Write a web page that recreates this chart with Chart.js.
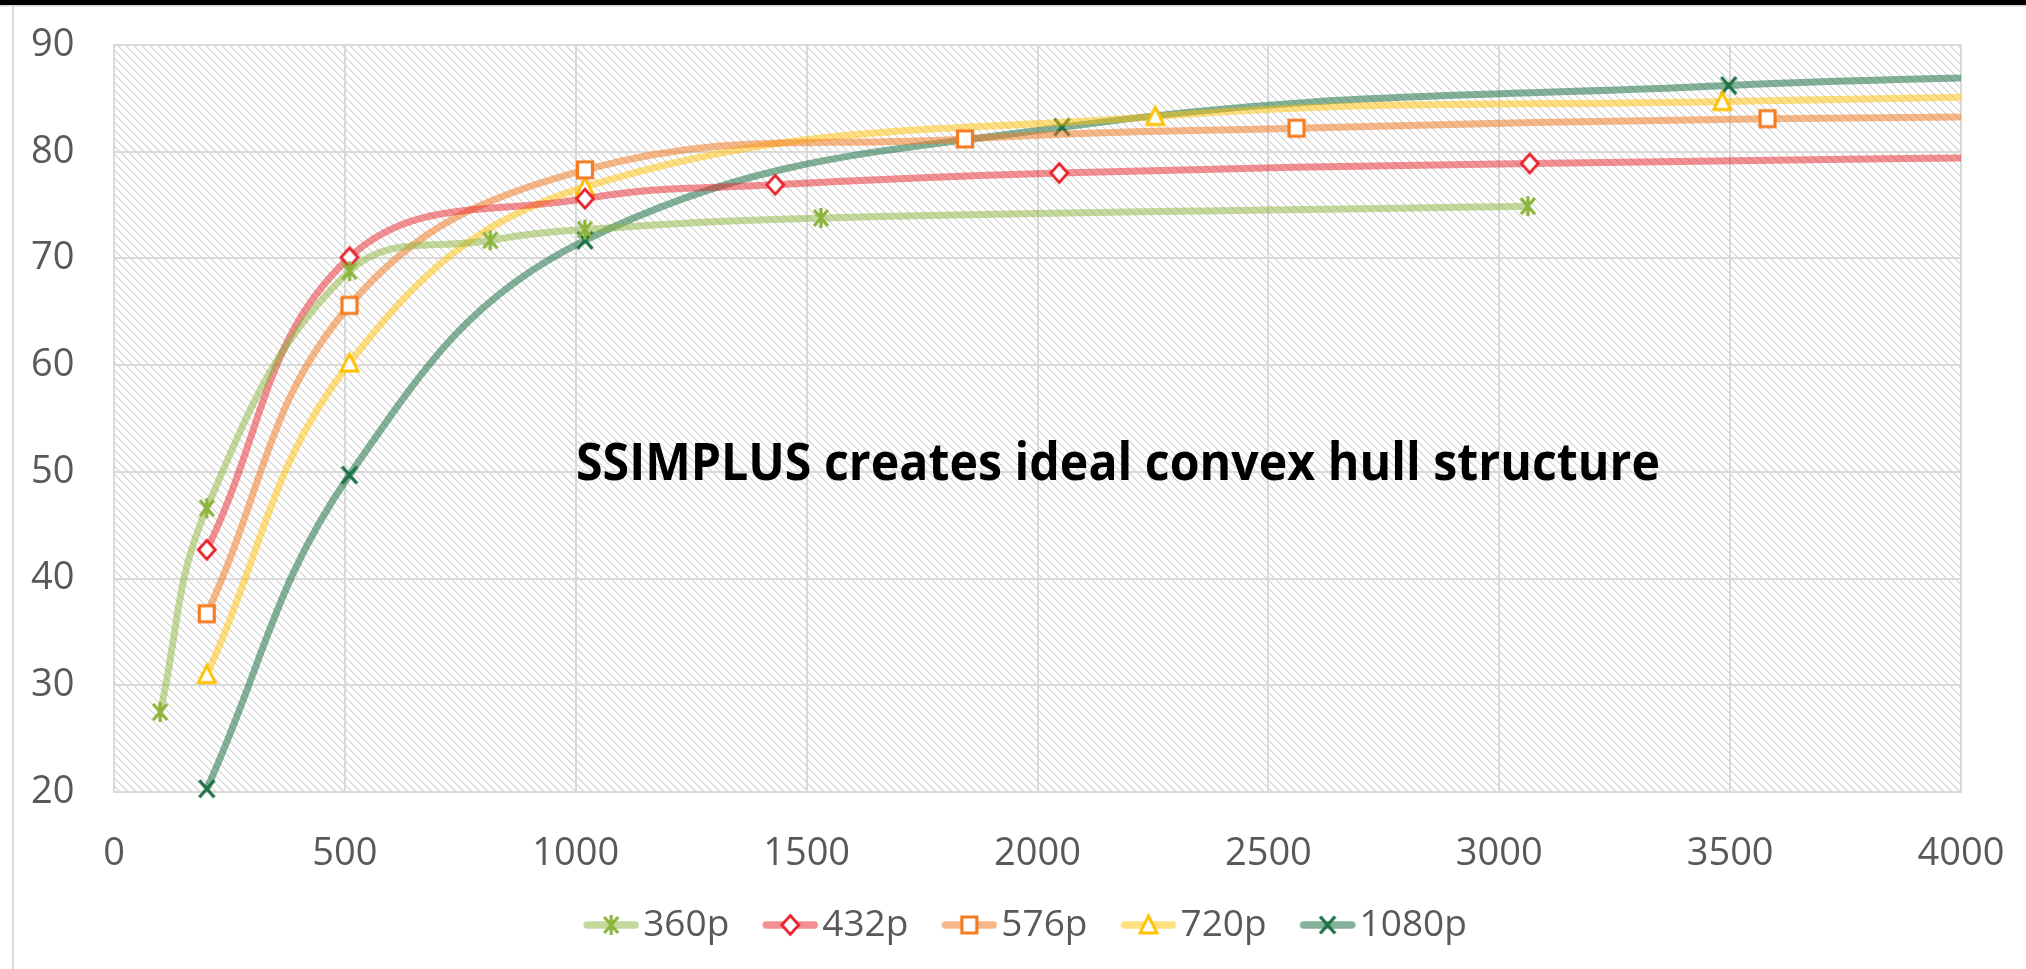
<!DOCTYPE html>
<html>
<head>
<meta charset="utf-8">
<script src="https://cdn.jsdelivr.net/npm/chart.js@4.4.1/dist/chart.umd.min.js"></script>
<style>
html,body{margin:0;padding:0;background:#fff;overflow:hidden}
canvas{display:block}
</style>
</head>
<body>
<canvas id="c" width="2026" height="969"></canvas>
<script>
// ---------------- data ----------------
const seriesNames = ['360p', '432p', '576p', '720p', '1080p'];

const x360  = [100, 201, 510, 815, 1020, 1531, 3062];
const y360  = [27.5, 46.6, 68.8, 71.7, 72.7, 73.8, 74.9];

const x432  = [201, 510, 1020, 1432, 2047, 3066, 4600];
const y432  = [42.7, 70.1, 75.6, 76.9, 78.0, 78.9, 79.7];

const x576  = [201, 510, 1020, 1843, 2561, 3581, 4600];
const y576  = [36.7, 65.6, 78.3, 81.2, 82.2, 83.1, 83.4];

const x720  = [201, 510, 1020, 2255, 3483, 4600];
const y720  = [31.0, 60.2, 76.7, 83.3, 84.7, 85.5];

const x1080 = [201, 510, 1020, 2053, 3497, 4600];
const y1080 = [20.3, 49.7, 71.7, 82.3, 86.2, 87.4];

const xTickValues = [0, 500, 1000, 1500, 2000, 2500, 3000, 3500, 4000];
const xTickLabels = ['0', '500', '1000', '1500', '2000', '2500', '3000', '3500', '4000'];
const yTickValues = [20, 30, 40, 50, 60, 70, 80, 90];
const yTickLabels = ['20', '30', '40', '50', '60', '70', '80', '90'];

const annotationText = 'SSIMPLUS creates ideal convex hull structure';

// ---------------- styles ----------------
const FONT = "'Open Sans', 'Noto Sans', 'DejaVu Sans', sans-serif";
const TEXT_COLOR = '#595959';
const GRID_COLOR = '#d9d9d9';
const markerColors = ['#8CB43C', '#E8212A', '#F47B20', '#FFC000', '#1E7145'];
const lineColors = ['rgba(140,180,60,0.5)', 'rgba(232,33,42,0.5)', 'rgba(240,125,40,0.55)',
                    'rgba(255,192,0,0.5)', 'rgba(30,113,69,0.55)'];
const markerTypes = ['star', 'diamond', 'square', 'triangle', 'x'];

function drawMarker(g, type, color, cx, cy) {
  g.save();
  g.strokeStyle = color;
  g.fillStyle = '#ffffff';
  g.lineJoin = 'miter';
  g.lineCap = 'butt';
  if (type === 'star') {
    g.lineWidth = 3.2;
    g.beginPath();
    g.moveTo(cx - 7, cy - 8); g.lineTo(cx + 7, cy + 8);
    g.moveTo(cx + 7, cy - 8); g.lineTo(cx - 7, cy + 8);
    g.moveTo(cx, cy - 10); g.lineTo(cx, cy + 10);
    g.stroke();
  } else if (type === 'diamond') {
    g.lineWidth = 2.8;
    g.beginPath();
    g.moveTo(cx, cy - 9.5); g.lineTo(cx + 8.5, cy); g.lineTo(cx, cy + 9.5); g.lineTo(cx - 8.5, cy);
    g.closePath(); g.fill(); g.stroke();
  } else if (type === 'square') {
    g.lineWidth = 3.2;
    g.beginPath();
    g.rect(cx - 7.5, cy - 8, 15, 16);
    g.fill(); g.stroke();
  } else if (type === 'triangle') {
    g.lineWidth = 2.8;
    g.beginPath();
    g.moveTo(cx, cy - 9); g.lineTo(cx + 8.5, cy + 8); g.lineTo(cx - 8.5, cy + 8);
    g.closePath(); g.fill(); g.stroke();
  } else if (type === 'x') {
    g.lineWidth = 3.4;
    g.beginPath();
    g.moveTo(cx - 7.5, cy - 8.5); g.lineTo(cx + 7.5, cy + 8.5);
    g.moveTo(cx + 7.5, cy - 8.5); g.lineTo(cx - 7.5, cy + 8.5);
    g.stroke();
  }
  g.restore();
}

function makeMarkerImage(i) {
  const c = document.createElement('canvas');
  c.width = 28; c.height = 28;
  drawMarker(c.getContext('2d'), markerTypes[i], markerColors[i], 14, 14);
  return c;
}

const LEG_LINE = 56;      // visible legend line length
const LEG_LEFT_GAP = 15;  // transparent room on the left of each legend symbol
function makeLegendImage(i) {
  const c = document.createElement('canvas');
  c.width = LEG_LINE + LEG_LEFT_GAP; c.height = 28;
  const g = c.getContext('2d');
  const x0 = LEG_LEFT_GAP;
  g.strokeStyle = lineColors[i];
  g.lineWidth = 7.5;
  g.lineCap = 'round';
  g.beginPath(); g.moveTo(x0 + 4, 14); g.lineTo(x0 + LEG_LINE - 4, 14); g.stroke();
  drawMarker(g, markerTypes[i], markerColors[i], x0 + LEG_LINE / 2, 14);
  return c;
}

const markerImages = seriesNames.map((_, i) => makeMarkerImage(i));
const legendImages = seriesNames.map((_, i) => makeLegendImage(i));

// hatch pattern tile
const tile = document.createElement('canvas');
tile.width = 8; tile.height = 8;
(function () {
  const tg = tile.getContext('2d');
  tg.fillStyle = '#ffffff'; tg.fillRect(0, 0, 8, 8);
  for (let i = 0; i < 8; i++) {
    tg.fillStyle = '#d2d2d2'; tg.fillRect(i, i, 1, 1);
    tg.fillStyle = '#e6e6e6'; tg.fillRect((i + 1) % 8, i, 1, 1);
  }
})();

const xs = [x360, x432, x576, x720, x1080];
const ys = [y360, y432, y576, y720, y1080];

const datasets = seriesNames.map((name, i) => ({
  label: name,
  data: xs[i].map((v, k) => ({ x: v, y: ys[i][k] })),
  borderColor: lineColors[i],
  borderWidth: 7,
  backgroundColor: lineColors[i],
  pointStyle: markerImages[i],
  pointRadius: 9,
  pointHoverRadius: 9,
  tension: 0.4,
  fill: false,
  clip: { left: false, top: 0, right: 0, bottom: false }
}));

// ---------------- plugins ----------------
const backgroundPlugin = {
  id: 'bg',
  beforeDraw(chart) {
    const ctx = chart.ctx;
    const { width, height } = chart;
    ctx.save();
    ctx.fillStyle = '#ffffff';
    ctx.fillRect(0, 0, width, height);
    ctx.fillStyle = '#000000';
    ctx.fillRect(0, 0, width, 5);
    ctx.fillStyle = '#d9d9d9';
    ctx.fillRect(0, 5, width, 1.5);
    ctx.fillRect(12, 5, 2, height);
    const a = chart.chartArea;
    ctx.fillStyle = ctx.createPattern(tile, 'repeat');
    ctx.fillRect(a.left, a.top, a.right - a.left, a.bottom - a.top);
    ctx.restore();
  }
};

const annotationPlugin = {
  id: 'annot',
  afterDraw(chart) {
    const ctx = chart.ctx;
    ctx.save();
    ctx.font = 'bold 52px ' + FONT;
    const tw = ctx.measureText(annotationText).width;
    const target = 1084;
    ctx.translate(1118, 480);
    ctx.scale(target / tw, 1);
    ctx.textAlign = 'center';
    ctx.textBaseline = 'alphabetic';
    ctx.fillStyle = '#000000';
    ctx.fillText(annotationText, 0, 0);
    ctx.restore();
  }
};

const FS = 38;        // tick font size
const LFS = 37;       // legend font size
const LEG_PAD = 32.5;
const LEG_BOX = LEG_LINE + LEG_LEFT_GAP + 8 - LFS;
const PAD_LEFT = 88.5;
const X_AXIS_H = 82;

new Chart(document.getElementById('c'), {
  type: 'line',
  data: { datasets },
  plugins: [backgroundPlugin, annotationPlugin],
  options: {
    responsive: false,
    animation: false,
    devicePixelRatio: 1,
    layout: { autoPadding: false, padding: { left: PAD_LEFT, right: 65, top: 45, bottom: 15.5 } },
    plugins: {
      tooltip: { enabled: false },
      title: { display: false },
      legend: {
        display: true,
        position: 'bottom',
        align: 'center',
        labels: {
          usePointStyle: true,
          pointStyleWidth: LEG_BOX,
          padding: LEG_PAD,
          color: TEXT_COLOR,
          font: { family: FONT, size: LFS },
          generateLabels: (chart) => chart.data.datasets.map((ds, i) => ({
            text: ds.label,
            fillStyle: 'transparent',
            strokeStyle: 'transparent',
            lineWidth: 0,
            pointStyle: legendImages[i],
            hidden: false,
            datasetIndex: i,
            fontColor: TEXT_COLOR
          }))
        }
      }
    },
    scales: {
      x: {
        type: 'linear',
        min: xTickValues[0], max: xTickValues[xTickValues.length - 1],
        afterBuildTicks: (s) => { s.ticks = xTickValues.map(v => ({ value: v })); },
        afterFit: (s) => { s.height = X_AXIS_H; s.paddingLeft = 0; s.paddingRight = 0; s.paddingTop = 0; s.paddingBottom = 0; },
        ticks: {
          color: TEXT_COLOR, padding: 39, maxRotation: 0, autoSkip: false,
          font: { family: FONT, size: FS },
          callback: (v) => xTickLabels[xTickValues.indexOf(v)]
        },
        grid: { color: GRID_COLOR, lineWidth: 2, drawTicks: false },
        border: { color: GRID_COLOR, width: 2 }
      },
      y: {
        min: yTickValues[0], max: yTickValues[yTickValues.length - 1],
        afterBuildTicks: (s) => { s.ticks = yTickValues.map(v => ({ value: v })); },
        afterFit: (s) => { s.width = 114 - PAD_LEFT; s.paddingLeft = 0; s.paddingRight = 0; s.paddingTop = 0; s.paddingBottom = 0; },
        ticks: {
          mirror: true, crossAlign: 'near',
          color: TEXT_COLOR, padding: -83, autoSkip: false,
          font: { family: FONT, size: FS },
          callback: (v) => yTickLabels[yTickValues.indexOf(v)]
        },
        grid: { color: GRID_COLOR, lineWidth: 2, drawTicks: false },
        border: { color: GRID_COLOR, width: 2 }
      }
    }
  }
});
</script>
</body>
</html>
